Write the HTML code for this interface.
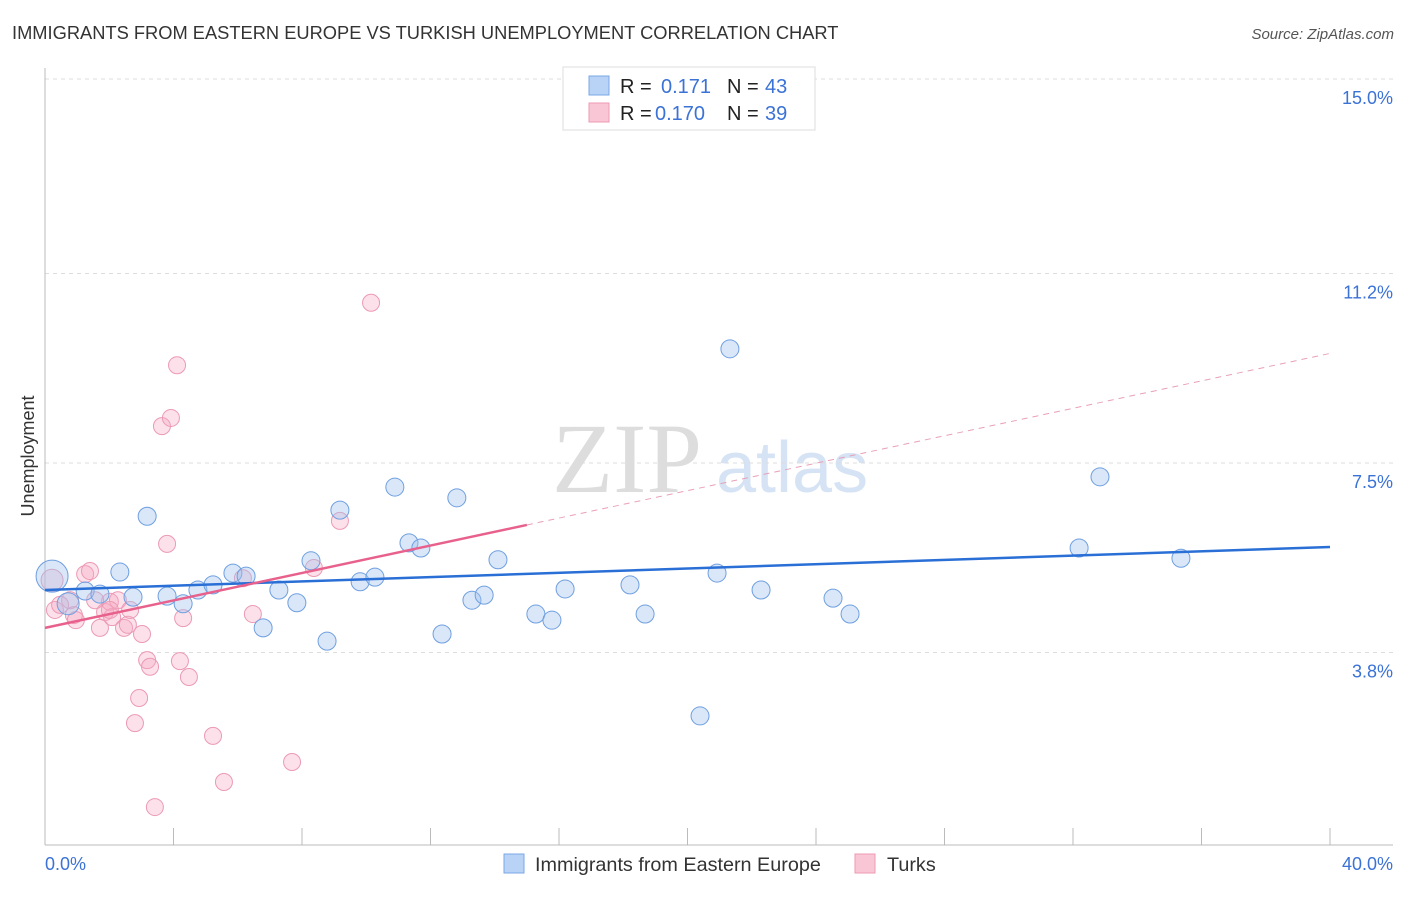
<!DOCTYPE html>
<html><head><meta charset="utf-8"><style>
body{margin:0;background:#fff;font-family:"Liberation Sans",sans-serif;}
svg text{font-family:"Liberation Sans",sans-serif;}
</style></head><body>
<svg width="1406" height="892" id="chart">
<text x="12" y="39" font-size="18.3" fill="#333">IMMIGRANTS FROM EASTERN EUROPE VS TURKISH UNEMPLOYMENT CORRELATION CHART</text>
<text x="1394" y="39" font-size="15" fill="#555" font-style="italic" text-anchor="end">Source: ZipAtlas.com</text>
<text x="34" y="456" font-size="18" fill="#333" text-anchor="middle" transform="rotate(-90 34 456)">Unemployment</text>
<text x="552" y="492" font-size="100" fill="#ddd" style="font-family:'Liberation Serif',serif">ZIP</text>
<text x="716" y="492" font-size="72" fill="#d5e3f5">atlas</text>
<g id="grid"></g><g id="axes"></g><g id="marks"></g>
<g>
<rect x="563" y="67" width="252" height="63" fill="#fff" stroke="#ddd"/>
<rect x="589" y="76" width="20" height="19" fill="#b8d3f5" stroke="#7aa7e6"/>
<rect x="589" y="103" width="20" height="19" fill="#f9c6d5" stroke="#ee9ab3"/>
<text x="620" y="93" font-size="20" fill="#222">R = </text><text x="661" y="93" font-size="20" fill="#3b72d6">0.171</text>
<text x="727" y="93" font-size="20" fill="#222">N = </text><text x="765" y="93" font-size="20" fill="#3b72d6">43</text>
<text x="620" y="120" font-size="20" fill="#222">R = </text><text x="655" y="120" font-size="20" fill="#3b72d6">0.170</text>
<text x="727" y="120" font-size="20" fill="#222">N = </text><text x="765" y="120" font-size="20" fill="#3b72d6">39</text>
</g>
<g>
<rect x="504" y="854" width="20" height="19" fill="#b8d3f5" stroke="#7aa7e6"/>
<text x="535" y="871" font-size="19.8" fill="#333">Immigrants from Eastern Europe</text>
<rect x="855" y="854" width="20" height="19" fill="#f9c6d5" stroke="#ee9ab3"/>
<text x="887" y="871" font-size="19.8" fill="#333">Turks</text>
</g>
</svg>
<script>
const yTicks=[15.0,11.2,7.5,3.8];
const yTickLabels=["15.0%","11.2%","7.5%","3.8%"];
const xTickLabels=["0.0%","40.0%"];
const blueX=[0.22,0.72,1.25,1.71,2.33,2.74,3.18,3.80,4.30,4.76,5.23,5.85,6.26,6.79,7.28,7.84,8.28,8.78,9.18,9.81,10.27,10.89,11.33,11.70,12.36,12.82,13.29,13.67,14.10,15.28,15.78,16.19,18.21,18.68,20.39,20.92,21.32,22.29,24.53,25.06,32.19,32.84,35.36];
const blueY=[5.29,4.75,5.0,4.94,5.37,4.88,6.46,4.90,4.75,5.02,5.12,5.35,5.29,4.28,5.02,4.77,5.59,4.02,6.58,5.18,5.27,7.03,5.94,5.84,4.16,6.82,4.82,4.92,5.61,4.55,4.43,5.04,5.12,4.55,2.56,5.35,9.73,5.02,4.86,4.55,5.84,7.23,5.64];
const pinkX=[0.22,0.31,0.78,0.90,0.96,1.25,1.40,1.71,1.87,2.02,2.09,2.27,2.46,2.58,2.65,3.02,3.18,3.27,2.80,2.93,3.42,3.64,3.80,3.92,4.11,4.20,4.30,4.48,5.23,5.57,6.16,6.47,7.69,8.37,9.18,10.15,0.47,1.56,2.02];
const pinkY=[5.21,4.63,4.82,4.53,4.43,5.33,5.39,4.28,4.59,4.79,4.49,4.82,4.28,4.34,4.63,4.16,3.65,3.52,2.42,2.91,0.78,8.22,5.92,8.38,9.41,3.63,4.47,3.32,2.17,1.27,5.25,4.55,1.66,5.45,6.37,10.63,4.73,4.82,4.63];
const blueTrend=[5.02,5.86];
const pinkTrend=[4.28,9.64];
const pinkSolidEnd=15.0;
const NS="http://www.w3.org/2000/svg";
const sx=v=>45+v*32.125, sy=v=>79+(15-v)*51.2;
function mk(t,a,p){const e=document.createElementNS(NS,t);for(const k in a)e.setAttribute(k,a[k]);document.getElementById(p).appendChild(e);return e;}
yTicks.forEach((t,i)=>{
 const l=mk('line',{x1:45,x2:1393,y1:sy(t),y2:sy(t),stroke:'#ddd','stroke-dasharray':'4,4'},'grid');
 
 
 const tx=mk('text',{x:1393,y:sy(t)+25,'font-size':18,fill:'#3b72d6','text-anchor':'end'},'grid');
 tx.textContent=yTickLabels[i];
 
 
});
let a=mk('line',{x1:45,x2:45,y1:68,y2:845,stroke:'#bbb'},'axes');


a=mk('line',{x1:45,x2:1393,y1:845,y2:845,stroke:'#bbb'},'axes');


for(let i=0;i<=10;i++){const t=mk('line',{x1:sx(i*4),x2:sx(i*4),y1:828,y2:845,stroke:'#bbb'},'axes');
 
 }
[[0,'start',45],[40,'end',1393]].forEach((d,i)=>{const t=mk('text',{x:d[2],y:870,'font-size':18,fill:'#3b72d6','text-anchor':d[1]},'axes');t.textContent=xTickLabels[i];
 
 });
pinkX.forEach((x,i)=>{const c=mk('circle',{cx:sx(x),cy:sy(pinkY[i]),r:i==0?11:8.5,fill:'rgba(246,170,195,0.35)',stroke:'#ec9ab4','stroke-width':1},'marks');
 
 });
blueX.forEach((x,i)=>{const c=mk('circle',{cx:sx(x),cy:sy(blueY[i]),r:i==0?16:(i==1?11:9),fill:'rgba(160,195,240,0.4)',stroke:'#6f9fe0','stroke-width':1},'marks');
 
 });
let l=mk('line',{x1:sx(0),y1:sy(blueTrend[0]),x2:sx(40),y2:sy(blueTrend[1]),stroke:'#2a6fd6','stroke-width':2.5},'marks');


const pe=pinkTrend[0]+(pinkTrend[1]-pinkTrend[0])*pinkSolidEnd/40;
l=mk('line',{x1:sx(0),y1:sy(pinkTrend[0]),x2:sx(pinkSolidEnd),y2:sy(pe),stroke:'#e8608c','stroke-width':2.5},'marks');


l=mk('line',{x1:sx(pinkSolidEnd),y1:sy(pe),x2:sx(40),y2:sy(pinkTrend[1]),stroke:'#e8a0b8','stroke-width':1,'stroke-dasharray':'6,5'},'marks');


</script>
</body></html>
